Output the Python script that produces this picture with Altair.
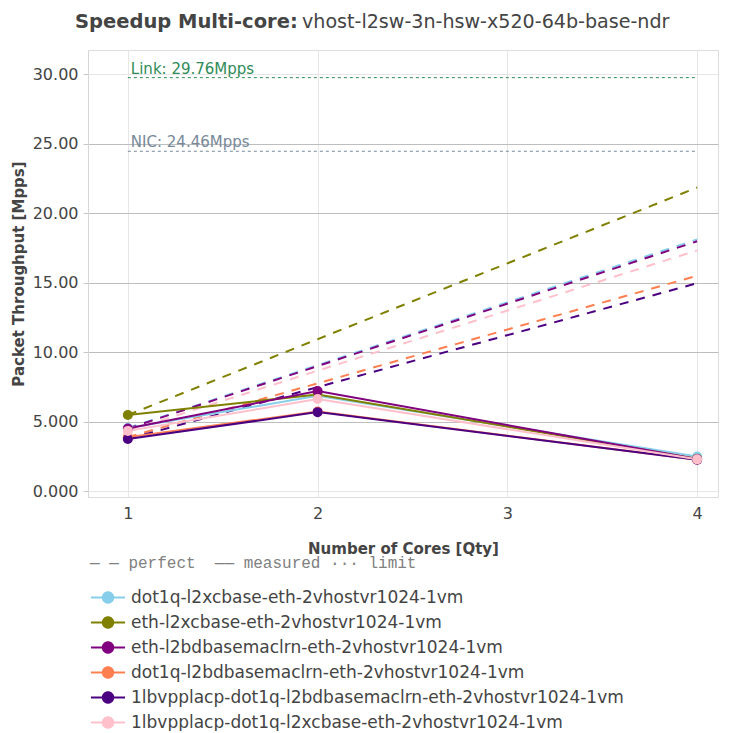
import altair as alt
import pandas as pd

# ---------------- data ----------------
series = [
    "dot1q-l2xcbase-eth-2vhostvr1024-1vm",
    "eth-l2xcbase-eth-2vhostvr1024-1vm",
    "eth-l2bdbasemaclrn-eth-2vhostvr1024-1vm",
    "dot1q-l2bdbasemaclrn-eth-2vhostvr1024-1vm",
    "1lbvpplacp-dot1q-l2bdbasemaclrn-eth-2vhostvr1024-1vm",
    "1lbvpplacp-dot1q-l2xcbase-eth-2vhostvr1024-1vm",
]
colors = ["#87CEEB", "#808000", "#800080", "#FF7F50", "#4B0082", "#FFC0CB"]
cores = [1, 2, 4]
measured_1 = [4.53, 5.47, 4.50, 3.88, 3.74, 4.33]
measured_2 = [6.85, 6.95, 7.20, 5.72, 5.68, 6.62]
measured_4 = [2.48, 2.32, 2.30, 2.26, 2.26, 2.28]
perfect_4 = [18.12, 21.85, 17.98, 15.50, 14.96, 17.32]

limit_names = ["Link", "NIC"]
limit_values = [29.76, 24.46]
limit_labels = ["Link: 29.76Mpps", "NIC: 24.46Mpps"]
limit_colors = ["#2E8B57", "#778899"]

y_ticks = [0, 5, 10, 15, 20, 25, 30]
x_ticks = [1, 2, 3, 4]

title_bold = "Speedup Multi-core:"
title_rest = "vhost-l2sw-3n-hsw-x520-64b-base-ndr"
legend_header = "—\u00a0—\u00a0perfect\u00a0\u00a0——\u00a0measured\u00a0···\u00a0limit"

# ---------------- tables ----------------
meas_rows = []
for s, a, b, c in zip(series, measured_1, measured_2, measured_4):
    for n, v in zip(cores, [a, b, c]):
        meas_rows.append({"series": s, "cores": n, "value": v})
meas_df = pd.DataFrame(meas_rows)

perf_rows = []
for s, a, d in zip(series, measured_1, perfect_4):
    perf_rows.append({"series": s, "cores": 1, "value": a})
    perf_rows.append({"series": s, "cores": 4, "value": d})
perf_df = pd.DataFrame(perf_rows)

lim_df = pd.DataFrame({"name": limit_names, "value": limit_values,
                       "label": limit_labels, "start": [1, 1], "end": [4, 4]})

FONT = "DejaVu Sans"
x_scale = alt.Scale(domain=[0.79, 4.11], nice=False, zero=False)
y_scale = alt.Scale(domain=[-0.43, 31.75], nice=False, zero=False)

x_enc = alt.X("cores:Q", scale=x_scale,
              axis=alt.Axis(values=x_ticks, format="d", title="Number of Cores [Qty]",
                            domain=False, ticks=False, labelPadding=8,
                            labelFontSize=16, labelColor="#444", labelFont=FONT,
                            titleFont=FONT, titleFontSize=15, titleColor="#444",
                            titleFontWeight="bold", titlePadding=20,
                            gridColor="#e6e6e6", gridWidth=1))
y_enc = alt.Y("value:Q", scale=y_scale,
              axis=alt.Axis(values=y_ticks, title="Packet Throughput [Mpps]",
                            labelExpr="datum.value < 10 ? format(datum.value, '.3f') : format(datum.value, '.2f')",
                            domain=True, domainColor="#d6d6d6", domainWidth=1,
                            ticks=True, tickColor="#c8c8c8", tickSize=5, labelPadding=5,
                            labelFontSize=16, labelColor="#444", labelFont=FONT,
                            titleFont=FONT, titleFontSize=15, titleColor="#444",
                            titleFontWeight="bold", titlePadding=6,
                            gridColor={"condition": {"test": "datum.value == 0 || datum.value == 30",
                                                     "value": "#e6e6e6"},
                                       "value": "#bdbdbd"},
                            gridWidth=1))

# symbol: short line with a dot; path units are sqrt(size)/2 = 5.5 px
symbol_path = ("M-1.37,0L4.82,0M2.68,0A0.95,0.95,0,1,1,0.78,0"
               "A0.95,0.95,0,1,1,2.68,0Z")
legend = alt.Legend(
    title=legend_header, orient="none", legendX=2, legendY=505,
    direction="vertical", padding=0,
    titleFont="Liberation Mono", titleFontSize=16, titleFontWeight="normal",
    titleColor="#808080", titlePadding=18, titleLimit=800,
    labelFont=FONT, labelFontSize=17, labelColor="#444", labelLimit=800,
    labelOffset=24, rowPadding=6,
    symbolType=symbol_path, symbolSize=121, symbolStrokeWidth=2,
    symbolDash=[1, 0], symbolOpacity=1,
)

stroke_enc = alt.Stroke("series:N", scale=alt.Scale(domain=series, range=colors), legend=legend)
fill_enc = alt.Fill("series:N", scale=alt.Scale(domain=series, range=colors), legend=legend)

layers = []
for i in range(len(limit_names)):
    d = lim_df.iloc[[i]]
    layers.append(alt.Chart(d).mark_rule(color=limit_colors[i], stroke=limit_colors[i],
                                         strokeWidth=1, opacity=1,
                                         strokeDash=[3, 3]).encode(
        x=alt.X("start:Q", scale=x_scale), x2="end:Q", y=alt.Y("value:Q", scale=y_scale)))
    layers.append(alt.Chart(d).mark_text(color=limit_colors[i], align="left", baseline="bottom",
                                         dx=3, dy=-1, font=FONT, fontSize=15).encode(
        x=alt.X("start:Q", scale=x_scale), y=alt.Y("value:Q", scale=y_scale), text="label:N"))

perfect = alt.Chart(perf_df).mark_line(strokeWidth=2, strokeDash=[9, 8]).encode(
    x=x_enc, y=y_enc, stroke=stroke_enc, detail="series:N")
measured = alt.Chart(meas_df).mark_line(strokeWidth=2).encode(
    x=x_enc, y=y_enc, stroke=stroke_enc)
points = alt.Chart(meas_df).mark_point(filled=True, size=100, opacity=1).encode(
    x=x_enc, y=y_enc, fill=fill_enc)

t1 = alt.Chart(pd.DataFrame({"t": [title_bold]})).mark_text(
    align="left", baseline="middle", font=FONT, fontSize=19.5, fontWeight="bold",
    color="#444").encode(text="t:N", x=alt.value(-13), y=alt.value(-28))
t2 = alt.Chart(pd.DataFrame({"t": [title_rest]})).mark_text(
    align="left", baseline="middle", font=FONT, fontSize=19.1, fontWeight="normal",
    color="#444").encode(text="t:N", x=alt.value(214), y=alt.value(-28))

chart = alt.layer(*layers, perfect, measured, points, t1, t2).properties(
    width=630, height=447,
    padding={"left": 80, "top": 42, "right": 4, "bottom": 234},
    autosize=alt.AutoSizeParams(type="none"),
).configure_view(stroke=None).configure(background="white")

chart.save("out.html", embed_options={"renderer": "svg", "actions": False})
